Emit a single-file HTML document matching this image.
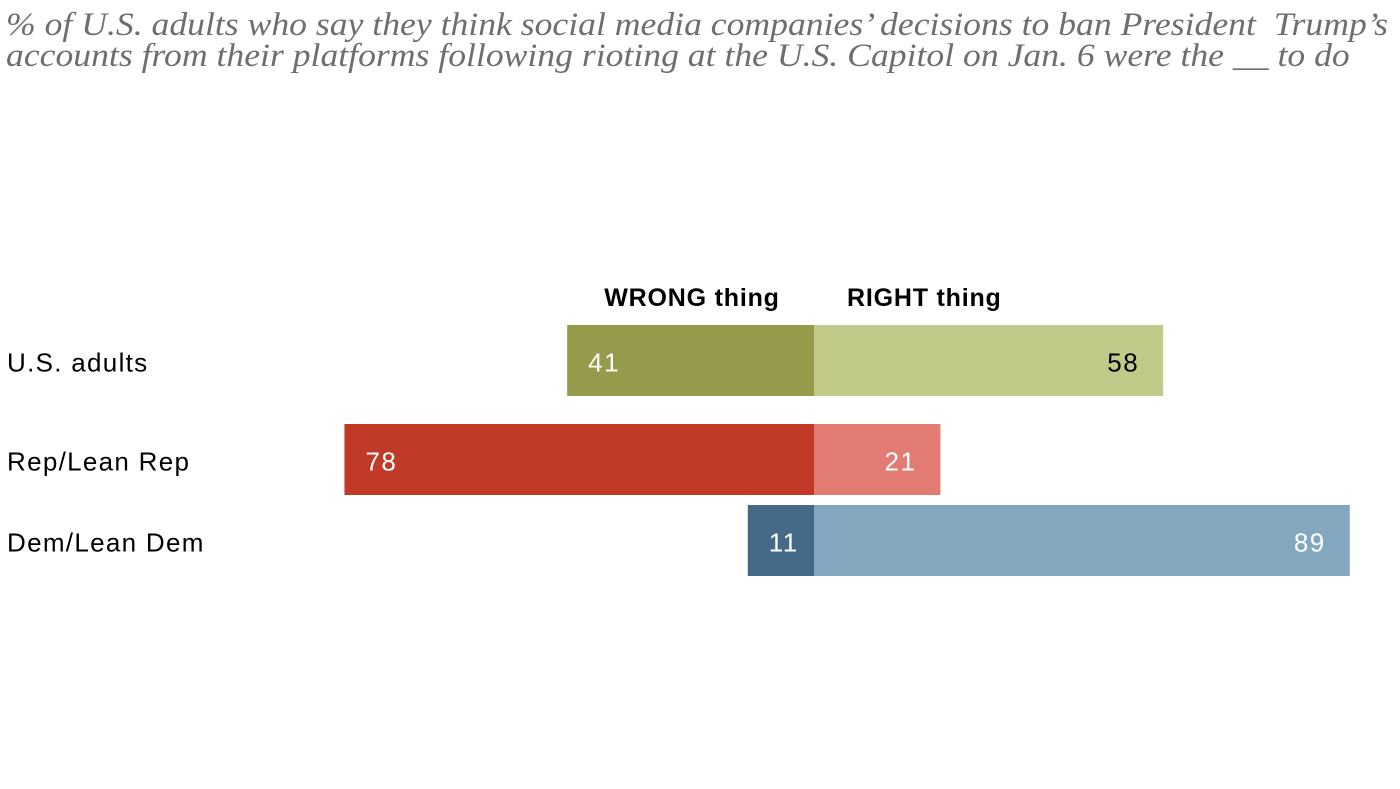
<!DOCTYPE html>
<html><head><meta charset="utf-8"><style>
body{margin:0;width:1400px;height:789px;background:#fff;overflow:hidden;font-family:"Liberation Sans",sans-serif}
#title{position:absolute;left:6px;top:10px;font-family:"Liberation Serif",serif;font-style:italic;font-size:33px;line-height:31px;color:#6e6e6e;white-space:nowrap;transform-origin:0 0;transform:scaleX(1.08)}
</style></head><body>
<div id="title">% of U.S. adults who say they think social media companies’ decisions to ban President&nbsp; Trump’s<br>accounts from their platforms following rioting at the U.S. Capitol on Jan. 6 were the __ to do</div>
<svg id="chart" width="1400" height="789" style="position:absolute;left:0;top:0">
<text x="692" y="306" text-anchor="middle" font-weight="bold" font-size="25" letter-spacing="0.8" fill="#000">WRONG thing</text>
<text x="847" y="306" font-weight="bold" font-size="25" letter-spacing="0.8" fill="#000">RIGHT thing</text>
</svg>
<script>
const categories=["U.S. adults","Rep/Lean Rep","Dem/Lean Dem"];
const wrongValues=[41,78,11];
const rightValues=[58,21,89];
const center=814, scale=6.02;
const tops=[325,424,505], barH=71;
const darkC=["#959b4a","#c13a28","#446a87"], lightC=["#c2ca8a","#e27c72","#84a7c0"];
const rightTextC=["#000","#fff","#fff"];
function x(v){return v*scale;}
const svg=document.getElementById('chart');
const NS='http://www.w3.org/2000/svg';
function mk(t,a){const e=document.createElementNS(NS,t);for(const k in a)e.setAttribute(k,a[k]);svg.appendChild(e);return e;}
categories.forEach((c,i)=>{
  const y=tops[i];
  const lab=mk('text',{x:7,y:y+barH/2+11,'font-size':26,'letter-spacing':1.3,fill:'#000'});lab.textContent=c;
  
  
  const w=wrongValues[i];
  const b1=mk('rect',{x:center-x(w),y:y,width:x(w),height:barH,fill:darkC[i]});
  
  
  const r=rightValues[i];
  const b2=mk('rect',{x:center,y:y,width:x(r),height:barH,fill:lightC[i]});
  
  
  const t1=mk('text',{x:center-x(w)+21,y:y+barH/2+11,'font-size':26,'letter-spacing':1.5,fill:'#fff'});t1.textContent=w;
  
  
  const t2=mk('text',{x:center+x(r)-24,y:y+barH/2+11,'font-size':26,'letter-spacing':1.5,fill:rightTextC[i],'text-anchor':'end'});t2.textContent=r;
  
  
});
</script>
</body></html>
